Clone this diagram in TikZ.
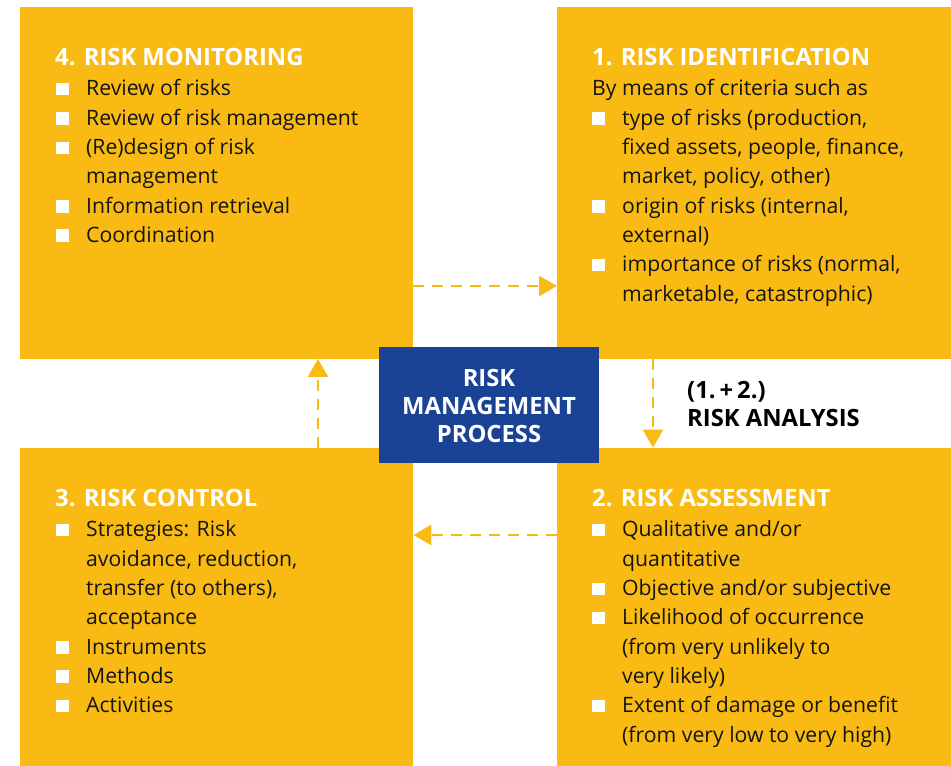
\documentclass[tikz,border=0pt]{standalone}
\usepackage{fontspec}
\setmainfont{Open Sans}
\usetikzlibrary{arrows.meta}
\definecolor{stepyellow}{HTML}{F9BB13}
\definecolor{coreblue}{HTML}{1A4396}
\definecolor{bodyink}{HTML}{141414}
% white square bullet and the matching indent for wrapped lines
\newcommand{\sqbul}{\makebox[30pt][l]{\textcolor{white}{\rule[0.5pt]{12.5pt}{12.5pt}}}}
\newcommand{\wrapind}{\hspace*{30pt}}
\tikzset{
  phase/.style={fill=stepyellow, draw=none, inner sep=0pt},
  headline/.style={anchor=base west, inner sep=0pt, text=white,
    font=\fontsize{23.8}{28}\selectfont\bfseries},
  bodytext/.style={anchor=base west, inner sep=0pt, text=bodyink,
    font=\fontsize{21.2}{29.3}\selectfont},
  flow/.style={draw=stepyellow, line width=2.8pt, dash pattern=on 11pt off 8pt,
    -{Triangle[width=20pt,length=18pt]}}
}
\begin{document}
\begin{tikzpicture}[x=1pt,y=1pt]
\useasboundingbox (0,0) rectangle (951,766);
\fill[white] (0,0) rectangle (951,766);

% the four phases of the cycle
\node[phase, minimum width=393pt, minimum height=352pt, anchor=south west] (mon) at (20,407) {};
\node[phase, minimum width=394pt, minimum height=352pt, anchor=south west] (ident) at (557,407) {};
\node[phase, minimum width=393pt, minimum height=318pt, anchor=south west] (ctl) at (20,0) {};
\node[phase, minimum width=394pt, minimum height=318pt, anchor=south west] (assess) at (557,0) {};

% connectors between the phases
\draw[flow] (mon.east |- 0,480) -- (ident.west |- 0,480);
\draw[flow] (ident.south -| 653,0) -- (assess.north -| 653,0);
\draw[flow] (assess.west |- 0,231) -- (ctl.east |- 0,231);
\draw[flow] (ctl.north -| 318,0) -- (mon.south -| 318,0);

% centre box
\node[fill=coreblue, minimum width=220pt, minimum height=116pt, inner sep=0pt,
      anchor=south west] (core) at (379,303) {};
\node[inner sep=0pt, text=white, align=center, anchor=base,
      font=\fontsize{23.8}{28}\selectfont\bfseries] (coretxt) at (489,323)
      {RISK\\MANAGEMENT\\PROCESS};

% label beside the downward connector
\node[inner sep=0pt, anchor=base west, align=left, text=black,
      font=\fontsize{23.8}{28}\selectfont\bfseries] (analysis) at (687,339)
      {(1.\,+\,2.)\\RISK ANALYSIS};

% 4. monitoring
\node[headline] (monh) at (55,700) {4. RISK MONITORING};
\node[bodytext] (monb) at (56,670) {\parbox[t]{340pt}{\raggedright
  \sqbul Review of risks\\
  \sqbul Review of risk management\\
  \sqbul (Re)design of risk\\
  \wrapind management\\
  \sqbul Information retrieval\\
  \sqbul Coordination}};

% 1. identification
\node[headline] (idh) at (592,700) {1. RISK IDENTIFICATION};
\node[bodytext] (idb) at (592,670) {\parbox[t]{350pt}{\raggedright
  By means of criteria such as\\
  \sqbul type of risks (production,\\
  \wrapind fixed assets, people, finance,\\
  \wrapind market, policy, other)\\
  \sqbul origin of risks (internal,\\
  \wrapind external)\\
  \sqbul importance of risks (normal,\\
  \wrapind marketable, catastrophic)}};

% 3. control
\node[headline] (ctlh) at (55,259) {3. RISK CONTROL};
\node[bodytext] (ctlb) at (56,229) {\parbox[t]{340pt}{\raggedright
  \sqbul Strategies: Risk\\
  \wrapind avoidance, reduction,\\
  \wrapind transfer (to others),\\
  \wrapind acceptance\\
  \sqbul Instruments\\
  \sqbul Methods\\
  \sqbul Activities}};

% 2. assessment
\node[headline] (assh) at (592,259) {2. RISK ASSESSMENT};
\node[bodytext] (assb) at (592,229) {\parbox[t]{350pt}{\raggedright
  \sqbul Qualitative and/or\\
  \wrapind quantitative\\
  \sqbul Objective and/or subjective\\
  \sqbul Likelihood of occurrence\\
  \wrapind (from very unlikely to\\
  \wrapind very likely)\\
  \sqbul Extent of damage or benefit\\
  \wrapind (from very low to very high)}};
\end{tikzpicture}
\end{document}
